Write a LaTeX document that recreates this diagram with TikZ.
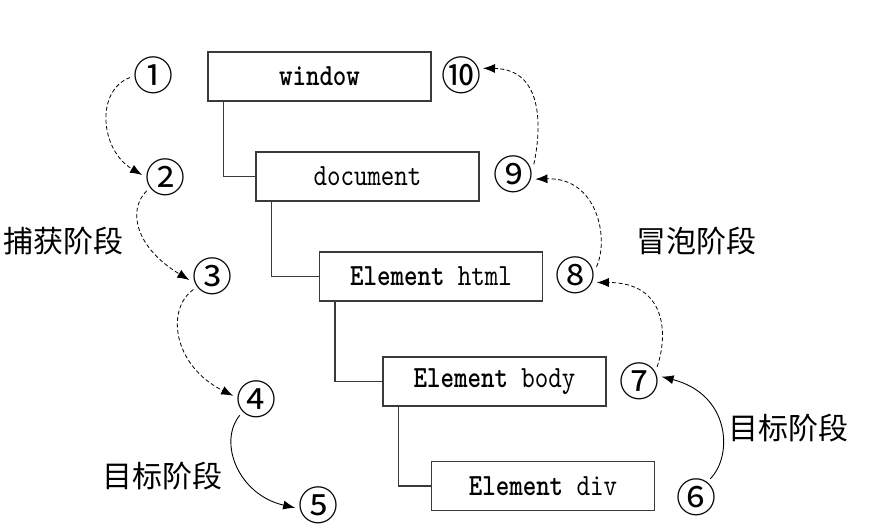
\documentclass[tikz,border=0pt]{standalone}
\usepackage{fontspec}
\usepackage{graphicx}
\usetikzlibrary{arrows.meta}
\newfontfamily\cjk{Noto Sans CJK SC}
\newfontfamily\ttb{lmmonolt10-bold}[Extension=.otf]
\newfontfamily\ttr{lmmono10-regular}[Extension=.otf]
\newcommand\bxt[1]{\scalebox{1}[1.2]{#1}}
\newcommand\cnum[1]{\smash{\makebox[0pt]{\raisebox{-0.38em}{#1}}}}
\definecolor{boxgray}{HTML}{3A3A3A}
\begin{document}
\begin{tikzpicture}[x=1pt,y=-1pt,
  boxst/.style={draw=boxgray, line width=1.1pt, fill=white, minimum width=223pt,
    minimum height=49pt, inner sep=0pt, font=\fontsize{25.7}{30}\selectfont},
  tree/.style={draw=boxgray, line width=1.1pt},
  num/.style={circle, minimum size=30pt, inner sep=0pt, outer sep=8pt,
    font=\cjk\fontsize{40}{40}\selectfont},
  lab/.style={inner sep=0pt, font=\cjk\fontsize{30}{30}\selectfont},
  darr/.style={draw=black, line width=0.8pt, dash pattern=on 4pt off 2.5pt,
    -{Latex[length=12pt,width=9pt]}},
  sarr/.style={draw=black, line width=0.9pt, -{Latex[length=12pt,width=9pt]}}]
\useasboundingbox (0,0) rectangle (871,532);
% boxes
\node[boxst] (win)  at (319.5,76.5) {\bxt{\ttb window}};
\node[boxst] (doc)  at (367.5,176.5) {\bxt{\ttr document}};
\node[boxst] (html) at (431,276.5) {\bxt{\ttb Element\ttr{} html}};
\node[boxst] (body) at (494.5,381.5) {\bxt{\ttb Element\ttr{} body}};
\node[boxst] (div)  at (543,486) {\bxt{\ttb Element\ttr{} div}};
% tree connectors
\draw[tree] ([xshift=16pt]win.south west) |- (doc.west);
\draw[tree] ([xshift=16pt]doc.south west) |- (html.west);
\draw[tree] ([xshift=16pt]html.south west) |- (body.west);
\draw[tree] ([xshift=16pt]body.south west) |- (div.west);
% circled numbers
\node[num] (c1)  at (153,75.5) {\cnum{①}};
\node[num] (c2)  at (165,177)  {\cnum{②}};
\node[num] (c3)  at (212,276)  {\cnum{③}};
\node[num] (c4)  at (256,399)  {\cnum{④}};
\node[num] (c5)  at (318,505)  {\cnum{⑤}};
\node[num] (c6)  at (696,497)  {\cnum{⑥}};
\node[num] (c7)  at (639,381)  {\cnum{⑦}};
\node[num] (c8)  at (575,275)  {\cnum{⑧}};
\node[num] (c9)  at (513,174)  {\cnum{⑨}};
\node[num] (c10) at (461,75)   {\cnum{⑩}};
% labels
\node[lab] (capt) at (64,241)  {捕获阶段};
\node[lab] (bubl) at (696,241) {冒泡阶段};
\node[lab] (tgl)  at (162,476) {目标阶段};
\node[lab] (tgr)  at (788,428) {目标阶段};
% arrows
\draw[darr] (c1.185) .. controls +(-35,13) and +(-42,-25) .. (c2.175);
\draw[darr] (c2.217) .. controls +(-20,20) and +(-53,-32) .. (c3.190);
\draw[darr] (c3.216) .. controls +(-28,20) and +(-60,-30) .. (c4.172);
\draw[sarr] (c4.225) .. controls +(-22,27) and +(-57,-13) .. (c5.187);
\draw[sarr] (c6.52)  .. controls +(23,-23) and +(69,18) .. (c7.11);
\draw[darr] (c7.38)  .. controls +(11,-32) and +(70,0) .. (c8.-19);
\draw[darr] (c8.21)  .. controls +(13,-28) and +(62,-2) .. (c9.-13);
\draw[darr] (c9.25)  .. controls +(8,-38) and +(60,1) .. (c10.17);
\end{tikzpicture}
\end{document}
